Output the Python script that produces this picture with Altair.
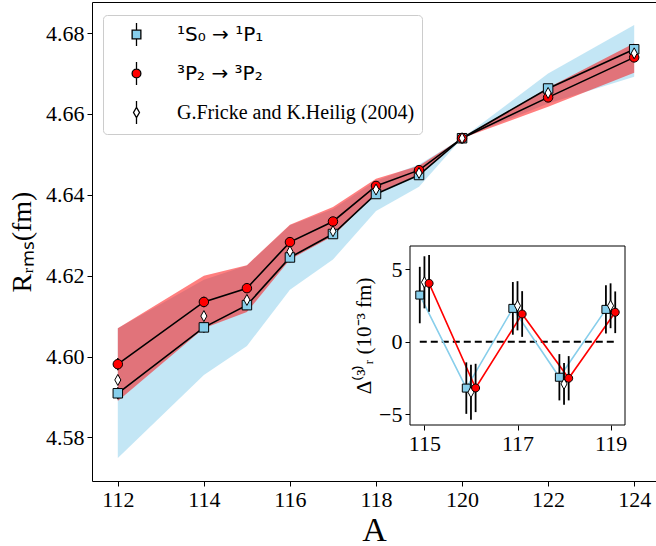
import altair as alt
import pandas as pd

# ---------------- data ----------------
A_main = [112, 114, 115, 116, 117, 118, 119, 120, 122, 124]
R_s = [4.5909, 4.6072, 4.6127, 4.6245, 4.6303, 4.6402, 4.6449, 4.6540, 4.6663, 4.6760]
R_p = [4.5981, 4.6135, 4.6169, 4.6283, 4.6334, 4.6422, 4.6461, 4.6540, 4.6641, 4.6740]
R_ref = [4.5942, 4.6100, 4.6140, 4.6260, 4.6310, 4.6413, 4.6454, 4.6540, 4.6652, 4.6750]
E_s = [0.0015, 0.0013, 0.0012, 0.0012, 0.0011, 0.0010, 0.0009, 0.0, 0.0010, 0.0012]
E_p = [0.0015, 0.0013, 0.0012, 0.0012, 0.0011, 0.0010, 0.0009, 0.0, 0.0010, 0.0012]
E_ref = [0.0010, 0.0009, 0.0009, 0.0008, 0.0008, 0.0007, 0.0006, 0.0, 0.0007, 0.0008]
band_s_lo = [4.5749, 4.5954, 4.6026, 4.6165, 4.6240, 4.6360, 4.6420, 4.6540, 4.6626, 4.6692]
band_s_hi = [4.6070, 4.6190, 4.6225, 4.6325, 4.6365, 4.6435, 4.6475, 4.6540, 4.6700, 4.6820]
band_p_lo = [4.5890, 4.6070, 4.6110, 4.6240, 4.6298, 4.6404, 4.6450, 4.6540, 4.6618, 4.6702]
band_p_hi = [4.6070, 4.6200, 4.6226, 4.6326, 4.6370, 4.6440, 4.6472, 4.6540, 4.6665, 4.6775]

A_in = [115, 116, 117, 118, 119]
X_in_s = [114.9, 115.9, 116.9, 117.9, 118.9]
X_in_p = [115.1, 116.1, 117.1, 118.1, 119.1]
D_s = [3.22, -3.21, 2.30, -2.46, 2.23]
D_p = [4.03, -3.20, 1.91, -2.53, 2.03]
D_ref = [4.10, -3.49, 2.48, -2.92, 2.48]
DE_s = [1.95, 1.78, 1.82, 1.60, 1.66]
DE_p = [1.96, 1.67, 1.58, 1.53, 1.44]
DE_ref = [1.80, 1.90, 1.70, 1.44, 1.55]

LABELS = ["¹S₀ → ¹P₁", "³P₂ → ³P₂", "G.Fricke and K.Heilig (2004)"]
COLORS = ["#87CEEB", "#FF0000", "#FFFFFF"]

MAIN_X = [111.4, 124.507]
MAIN_Y = [4.5692, 4.6877]
IN_X = [114.69, 119.31]
IN_Y = [-5.76, 6.61]
X_TICKS = [112, 114, 116, 118, 120, 122, 124]
Y_TICKS = [4.58, 4.60, 4.62, 4.64, 4.66, 4.68]
IN_X_TICKS = [115, 117, 119]
IN_Y_TICKS = [-5, 0, 5]

# ---------------- layout / style ----------------
W, H = 564, 479
IN_RANGE_X = [318, 533]
IN_RANGE_Y = [423, 244]
SERIF = "Liberation Serif"
TICK_FS = 22

SQ = "M-1,-1H1V1H-1Z"
CI = "M1,0A1,1 0 1,1 -1,0A1,1 0 1,1 1,0Z"
DI = "M0,-1L0.55,0L0,1L-0.55,0Z"
LEG_SQ = "M0,-1V-0.38M0,0.38V1M-0.38,-0.38H0.38V0.38H-0.38Z"
LEG_CI = "M0,-1V-0.38M0,0.38V1M0.38,0A0.38,0.38 0 1,1 -0.38,0A0.38,0.38 0 1,1 0.38,0Z"
LEG_DI = "M0,-1V-0.45M0,0.45V1M0,-0.45L0.26,0L0,0.45L-0.26,0Z"

main_df = pd.DataFrame({
    "A": A_main, "s": R_s, "p": R_p, "ref": R_ref,
    "s_lo": band_s_lo, "s_hi": band_s_hi, "p_lo": band_p_lo, "p_hi": band_p_hi,
})
main_df["s_e0"] = main_df["s"] - pd.Series(E_s)
main_df["s_e1"] = main_df["s"] + pd.Series(E_s)
main_df["p_e0"] = main_df["p"] - pd.Series(E_p)
main_df["p_e1"] = main_df["p"] + pd.Series(E_p)
main_df["r_e0"] = main_df["ref"] - pd.Series(E_ref)
main_df["r_e1"] = main_df["ref"] + pd.Series(E_ref)

in_df = pd.DataFrame({
    "xs": X_in_s, "xp": X_in_p, "xr": A_in,
    "s": D_s, "p": D_p, "r": D_ref,
})
in_df["s0"] = in_df["s"] - pd.Series(DE_s)
in_df["s1"] = in_df["s"] + pd.Series(DE_s)
in_df["p0"] = in_df["p"] - pd.Series(DE_p)
in_df["p1"] = in_df["p"] + pd.Series(DE_p)
in_df["r0"] = in_df["r"] - pd.Series(DE_ref)
in_df["r1"] = in_df["r"] + pd.Series(DE_ref)

leg_df = pd.DataFrame({"label": LABELS, "A": [None, None, None], "v": [None, None, None]})

# ---------------- main chart ----------------
mx = alt.X("A:Q", scale=alt.Scale(domain=MAIN_X, nice=False, zero=False),
           axis=alt.Axis(values=X_TICKS, title="A", titleFontSize=34, titlePadding=3,
                         labelFont=SERIF, labelFontSize=TICK_FS, titleFont=SERIF,
                         domain=False, grid=False, format="d"))


def my(field):
    return alt.Y(field, scale=alt.Scale(domain=MAIN_Y, nice=False, zero=False),
                 axis=alt.Axis(values=Y_TICKS, format=".2f", title="Rᵣₘₛ(fm)",
                               labelFont=SERIF, labelFontSize=TICK_FS, titleFont=SERIF,
                               titleFontSize=28, titlePadding=9, domain=False, grid=False))


mb = alt.Chart(main_df)
band_s = mb.mark_area(color="#87CEEB", opacity=0.5).encode(x=mx, y=my("s_lo:Q"), y2="s_hi:Q")
band_p = mb.mark_area(color="#FF0000", opacity=0.5).encode(x=mx, y=my("p_lo:Q"), y2="p_hi:Q")
line_s = mb.mark_line(color="black", strokeWidth=1.6).encode(x=mx, y=my("s:Q"))
line_p = mb.mark_line(color="black", strokeWidth=1.6).encode(x=mx, y=my("p:Q"))
err_s = mb.mark_rule(color="black", strokeWidth=1.5).encode(x=mx, y=my("s_e0:Q"), y2="s_e1:Q")
err_p = mb.mark_rule(color="black", strokeWidth=1.5).encode(x=mx, y=my("p_e0:Q"), y2="p_e1:Q")
err_r = mb.mark_rule(color="black", strokeWidth=1.5).encode(x=mx, y=my("r_e0:Q"), y2="r_e1:Q")
pt_s = mb.mark_point(shape=SQ, size=90, filled=True, fill=COLORS[0], stroke="black",
                     strokeWidth=1, opacity=1).encode(x=mx, y=my("s:Q"))
pt_p = mb.mark_point(shape=CI, size=90, filled=True, fill=COLORS[1], stroke="black",
                     strokeWidth=1, opacity=1).encode(x=mx, y=my("p:Q"))
pt_r = mb.mark_point(shape=DI, size=121, filled=True, fill=COLORS[2], stroke="black",
                     strokeWidth=1, opacity=1).encode(x=mx, y=my("ref:Q"))

legend = alt.Legend(
    title=None, orient="none", legendX=11, legendY=13, padding=7,
    symbolOffset=14, labelOffset=28, rowPadding=10, symbolSize=529,
    symbolStrokeColor="black", symbolStrokeWidth=1.3,
    labelFontSize=20, labelColor="black", labelLimit=0,
    labelFont=alt.ExprRef(expr="datum.label == 'G.Fricke and K.Heilig (2004)' ? 'Liberation Serif' : 'DejaVu Sans'"),
    strokeColor="#cccccc", fillColor="white", cornerRadius=4,
)
leg_layer = alt.Chart(leg_df).mark_point(size=529, filled=True, strokeWidth=1.3, opacity=1).encode(
    x=mx, y=my("v:Q"),
    fill=alt.Fill("label:N", scale=alt.Scale(domain=LABELS, range=COLORS), legend=legend),
    shape=alt.Shape("label:N", scale=alt.Scale(domain=LABELS, range=[LEG_SQ, LEG_CI, LEG_DI]),
                    legend=legend),
    stroke=alt.Stroke("label:N", scale=alt.Scale(domain=LABELS, range=["black", "black", "black"]),
                      legend=legend),
)

main = alt.layer(band_s, band_p, line_s, line_p, err_s, err_p, err_r, pt_s, pt_p, pt_r, leg_layer)

# ---------------- inset ----------------
in_x_scale = alt.Scale(domain=IN_X, range=IN_RANGE_X, nice=False, zero=False)
in_y_scale = alt.Scale(domain=IN_Y, range=IN_RANGE_Y, nice=False, zero=False)
in_x_axis = alt.Axis(orient="bottom", offset=-(H - IN_RANGE_Y[0]), values=IN_X_TICKS,
                     labelFont=SERIF, labelFontSize=TICK_FS,
                     title=None, domain=False, grid=False, format="d")
in_y_axis = alt.Axis(orient="left", offset=-IN_RANGE_X[0], values=IN_Y_TICKS,
                     labelFont=SERIF, labelFontSize=TICK_FS, titleFont=SERIF,
                     title="Δ⁽³⁾ᵣ (10⁻³ fm)", titleFontSize=21, titlePadding=4,
                     labelExpr="datum.value < 0 ? '−' + abs(datum.value) : datum.label",
                     domain=False, grid=False)


def ix(field):
    return alt.X(field, scale=in_x_scale, axis=in_x_axis)


def iy(field):
    return alt.Y(field, scale=in_y_scale, axis=in_y_axis)


ib = alt.Chart(in_df)
frame = ib.mark_rect(fill="white", stroke="black", strokeWidth=1).encode(
    x=alt.X(datum=IN_X[0], scale=in_x_scale, axis=in_x_axis), x2=alt.X2(datum=IN_X[1]),
    y=alt.Y(datum=IN_Y[0], scale=in_y_scale, axis=in_y_axis), y2=alt.Y2(datum=IN_Y[1]),
).transform_filter("datum.xr == 115")
zero = ib.mark_rule(color="black", strokeWidth=2, strokeDash=[7, 4]).encode(
    x=alt.X(datum=min(X_in_s), scale=in_x_scale, axis=in_x_axis), x2=alt.X2(datum=max(X_in_p)),
    y=alt.Y(datum=0, scale=in_y_scale, axis=in_y_axis)).transform_filter("datum.xr == 115")
iline_s = ib.mark_line(color="#87CEEB", strokeWidth=1.6).encode(x=ix("xs:Q"), y=iy("s:Q"))
iline_p = ib.mark_line(color="#FF0000", strokeWidth=1.6).encode(x=ix("xp:Q"), y=iy("p:Q"))
ierr_s = ib.mark_rule(color="black", strokeWidth=1.8).encode(x=ix("xs:Q"), y=iy("s0:Q"), y2="s1:Q")
ierr_r = ib.mark_rule(color="black", strokeWidth=1.8).encode(x=ix("xr:Q"), y=iy("r0:Q"), y2="r1:Q")
ierr_p = ib.mark_rule(color="black", strokeWidth=1.8).encode(x=ix("xp:Q"), y=iy("p0:Q"), y2="p1:Q")
ipt_s = ib.mark_point(shape=SQ, size=64, filled=True, fill=COLORS[0], stroke="black",
                      strokeWidth=1, opacity=1).encode(x=ix("xs:Q"), y=iy("s:Q"))
ipt_r = ib.mark_point(shape=DI, size=121, filled=True, fill=COLORS[2], stroke="black",
                      strokeWidth=1, opacity=1).encode(x=ix("xr:Q"), y=iy("r:Q"))
ipt_p = ib.mark_point(shape=CI, size=64, filled=True, fill=COLORS[1], stroke="black",
                      strokeWidth=1, opacity=1).encode(x=ix("xp:Q"), y=iy("p:Q"))

inset = alt.layer(frame, zero, iline_s, iline_p, ierr_s, ierr_r, ierr_p, ipt_s, ipt_r, ipt_p)

chart = alt.layer(main, inset).resolve_scale(x="independent", y="independent").properties(
    width=W, height=H,
    padding={"left": 92, "top": 2, "right": 0, "bottom": 65},
    autosize=alt.AutoSizeParams(type="none"),
    background="white",
).configure_view(stroke="black", strokeWidth=1).configure_axis(
    labelFont=SERIF, titleFont=SERIF, labelFontSize=TICK_FS, labelColor="black",
    titleColor="black", titleFontWeight="normal", tickColor="black", tickSize=5,
    tickWidth=1, labelPadding=3, grid=False,
)

chart.save("out.html", embed_options={"renderer": "svg", "actions": False})
